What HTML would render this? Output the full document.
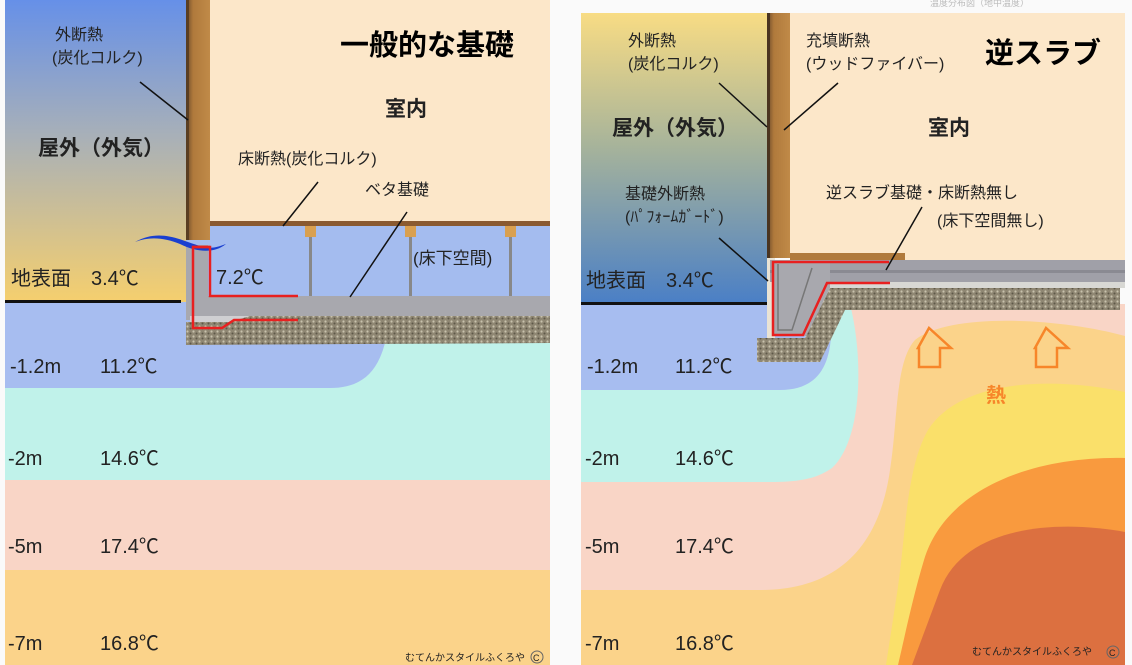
<!DOCTYPE html>
<html><head><meta charset="utf-8"><style>
html,body{margin:0;padding:0;background:#fafafa;width:1132px;height:665px;overflow:hidden}
text{font-family:"Liberation Sans","Noto Sans CJK JP",sans-serif;fill:#222}
</style></head><body>
<svg width="1132" height="665" viewBox="0 0 1132 665" xmlns="http://www.w3.org/2000/svg">
<defs>
<linearGradient id="skyL" x1="0" y1="0" x2="0" y2="1">
<stop offset="0" stop-color="#6690e8"/><stop offset="0.45" stop-color="#a8b0b8"/><stop offset="1" stop-color="#f5cf6e"/></linearGradient>
<linearGradient id="skyR" x1="0" y1="0" x2="0" y2="1">
<stop offset="0" stop-color="#f8dc84"/><stop offset="0.45" stop-color="#a8b49a"/><stop offset="1" stop-color="#4a7fc6"/></linearGradient>
<linearGradient id="wood" x1="0" y1="0" x2="1" y2="0">
<stop offset="0" stop-color="#6b4a2a"/><stop offset="0.3" stop-color="#b07a3c"/><stop offset="1" stop-color="#c08a48"/></linearGradient>
<pattern id="grav" width="6" height="5" patternUnits="userSpaceOnUse">
<rect width="6" height="5" fill="#8f8773"/><circle cx="1.5" cy="1.5" r="1.1" fill="#c9c2ad"/><circle cx="4.5" cy="3.5" r="1" fill="#5e5848"/></pattern>
</defs>

<!-- ===== LEFT PANEL ===== -->
<rect x="5" y="0" width="545" height="665" fill="#fbd38a"/>
<rect x="5" y="480" width="545" height="90" fill="#f9d5c6"/>
<rect x="5" y="300" width="545" height="180" fill="#c0f2ea"/>
<path d="M5,302 H390 C388,360 372,388 330,388 H5 Z" fill="#a7bdf0"/>
<rect x="5" y="0" width="181" height="302" fill="url(#skyL)"/>
<rect x="210" y="0" width="340" height="224" fill="#fce7c9"/>
<rect x="186" y="226" width="364" height="72" fill="#a4bcef"/>
<rect x="186" y="0" width="24" height="240" fill="url(#wood)"/>
<rect x="186" y="0" width="3" height="240" fill="#5a3e22"/>
<rect x="210" y="221" width="340" height="5" fill="#8a5a30"/>
<g fill="#888"><rect x="309" y="236" width="3" height="60"/><rect x="409" y="236" width="3" height="60"/><rect x="509" y="236" width="3" height="60"/></g>
<g fill="#d9a050"><rect x="305" y="226" width="11" height="11"/><rect x="405" y="226" width="11" height="11"/><rect x="505" y="226" width="11" height="11"/></g>
<rect x="5" y="300" width="176" height="3" fill="#111"/>
<rect x="192" y="296" width="358" height="24" fill="#a8a8ae"/>
<rect x="186" y="245" width="22" height="75" fill="#a8a8ae"/>
<rect x="190" y="316" width="360" height="6" fill="#cfcfd2"/>
<path d="M186,322 L230,322 L250,316 L550,316 L550,343 L186,345 Z" fill="url(#grav)"/>
<path d="M135,242 C160,228 180,240 200,246 C212,250 220,246 226,244 C214,254 196,252 180,244 C165,238 150,236 135,242 Z" fill="#1a3fd0"/>
<polyline points="210,247 193,247 193,328 222,328 234,320 298,320" fill="none" stroke="#e82020" stroke-width="2.5"/>
<polyline points="193,247 210,247 210,296 298,296" fill="none" stroke="#e82020" stroke-width="2.5"/>
<g stroke="#111" stroke-width="1.5">
<line x1="140" y1="82" x2="188" y2="120"/><line x1="318" y1="182" x2="283" y2="226"/><line x1="407" y1="212" x2="350" y2="297"/></g>
<text x="55" y="40" font-size="16">外断熱</text>
<text x="52" y="63" font-size="16">(炭化コルク)</text>
<text x="38" y="155" font-size="21" font-weight="bold">屋外（外気）</text>
<text x="340" y="55" font-size="29" font-weight="bold" style="fill:#000">一般的な基礎</text>
<text x="385" y="116" font-size="21" font-weight="bold">室内</text>
<text x="238" y="164" font-size="16">床断熱(炭化コルク)</text>
<text x="365" y="195" font-size="16">ベタ基礎</text>
<text x="413" y="264" font-size="17">(床下空間)</text>
<text x="216" y="284" font-size="20">7.2℃</text>
<text x="11" y="285" font-size="20">地表面　3.4℃</text>
<g font-size="20">
<text x="10" y="373">-1.2m</text><text x="100" y="373">11.2℃</text>
<text x="8" y="465">-2m</text><text x="100" y="465">14.6℃</text>
<text x="8" y="553">-5m</text><text x="100" y="553">17.4℃</text>
<text x="8" y="650">-7m</text><text x="100" y="650">16.8℃</text></g>
<text x="405" y="661" font-size="10">むてんかスタイルふくろや</text>
<circle cx="537" cy="657" r="6" fill="none" stroke="#666"/><text x="533" y="661" font-size="9">C</text>

<!-- ===== RIGHT PANEL ===== -->
<rect x="581" y="304" width="544" height="361" fill="#fbd38a"/>
<path d="M581,304 L1125,304 L1125,336 C1060,318 950,312 915,340 C895,362 898,420 890,470 C878,555 830,590 760,590 L581,590 Z" fill="#f9d5c6"/>
<path d="M581,304 L850,304 C864,360 862,440 832,468 C815,480 795,482 770,482 L581,482 Z" fill="#c0f2ea"/>
<path d="M581,304 L830,304 C836,360 822,390 780,390 L581,390 Z" fill="#a7bdf0"/>
<path d="M1125,392 C1050,376 960,380 928,430 C905,470 906,540 896,600 L886,665 L1125,665 Z" fill="#fae06a"/>
<path d="M1125,458 C1030,456 945,490 924,560 C912,600 904,640 898,665 L1125,665 Z" fill="#f99a3e"/>
<path d="M1125,532 C1060,520 965,524 940,590 L912,665 L1125,665 Z" fill="#dc7040"/>
<rect x="581" y="13" width="186" height="291" fill="url(#skyR)"/>
<rect x="790" y="13" width="335" height="248" fill="#fce7c9"/>
<rect x="767" y="13" width="23" height="245" fill="url(#wood)"/>
<rect x="767" y="13" width="3" height="245" fill="#4a3420"/>
<rect x="790" y="253" width="115" height="7" fill="#b07a3c"/>
<rect x="581" y="302" width="186" height="3" fill="#111"/>
<rect x="767" y="258" width="8" height="80" fill="#e9e3d4"/>
<rect x="770" y="260" width="355" height="22" fill="#a0a0a8"/>
<rect x="770" y="270" width="355" height="3" fill="#8a8a92"/>
<rect x="820" y="282" width="305" height="6" fill="#d8d8d4"/>
<path d="M830,288 L1120,288 L1120,310 L845,310 L820,362 L757,362 L757,338 L805,338 Z" fill="url(#grav)"/>
<path d="M772,260 L830,260 L830,288 L806,336 L772,336 Z" fill="#a8a8ae"/>
<polyline points="778,264 778,330 792,330 812,268" fill="none" stroke="#777" stroke-width="1.5"/>
<polyline points="889,262 773,262 773,335 803,335 827,283 890,283" fill="none" stroke="#e82020" stroke-width="2.5"/>
<g stroke="#111" stroke-width="1.5">
<line x1="719" y1="83" x2="767" y2="127"/><line x1="838" y1="83" x2="784" y2="130"/>
<line x1="719" y1="238" x2="768" y2="281"/><line x1="922" y1="207" x2="886" y2="270"/></g>
<text x="628" y="46" font-size="16">外断熱</text>
<text x="628" y="69" font-size="16">(炭化コルク)</text>
<text x="806" y="46" font-size="16">充填断熱</text>
<text x="806" y="69" font-size="16">(ウッドファイバー)</text>
<text x="985" y="63" font-size="29" font-weight="bold" style="fill:#000">逆スラブ</text>
<text x="612" y="135" font-size="21" font-weight="bold">屋外（外気）</text>
<text x="928" y="135" font-size="21" font-weight="bold">室内</text>
<text x="625" y="199" font-size="16">基礎外断熱</text>
<text x="625" y="222" font-size="16">(ﾊﾟﾌｫｰﾑｶﾞｰﾄﾞ)</text>
<text x="826" y="198" font-size="16">逆スラブ基礎・床断熱無し</text>
<text x="937" y="226" font-size="16">(床下空間無し)</text>
<text x="586" y="287" font-size="20">地表面　3.4℃</text>
<g font-size="20">
<text x="587" y="373">-1.2m</text><text x="675" y="373">11.2℃</text>
<text x="585" y="465">-2m</text><text x="675" y="465">14.6℃</text>
<text x="585" y="553">-5m</text><text x="675" y="553">17.4℃</text>
<text x="585" y="650">-7m</text><text x="675" y="650">16.8℃</text></g>
<g fill="none" stroke="#f7862a" stroke-width="2.5">
<path d="M929,348 L940,328 L962,348 L951,348 L951,367 L930,367 L930,348 Z" transform="translate(-11,0)"/>
<path d="M1046,348 L1057,328 L1079,348 L1068,348 L1068,367 L1047,367 L1047,348 Z" transform="translate(-11,0)"/></g>
<text x="986" y="402" font-size="20" font-weight="bold" style="fill:#f7862a">熱</text>
<text x="972" y="655" font-size="10">むてんかスタイルふくろや</text>
<circle cx="1113" cy="652" r="6" fill="none" stroke="#666"/><text x="1109" y="656" font-size="9">C</text>
<text x="930" y="6" font-size="9" style="fill:#bbb">温度分布図（地中温度）</text>
</svg>
</body></html>
